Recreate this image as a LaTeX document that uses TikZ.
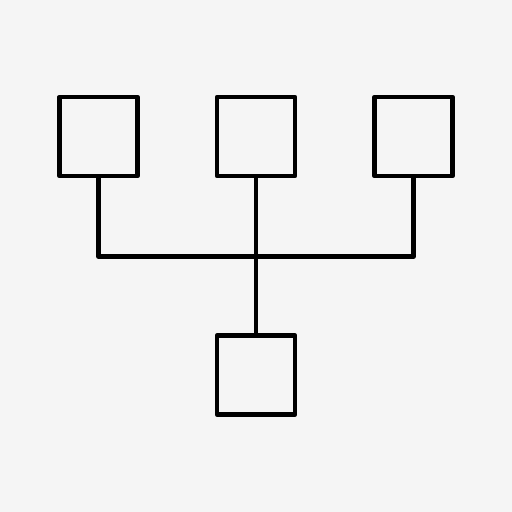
\documentclass[tikz,border=0pt]{standalone}
\definecolor{bg}{HTML}{F5F5F5}
\begin{document}
\begin{tikzpicture}[x=1pt,y=-1pt,
  box/.style={draw=black,line width=4.8pt,line join=round,rectangle,minimum width=78pt,minimum height=79pt,inner sep=0pt,outer sep=0pt},
  conn/.style={draw=black,line width=4.8pt,line join=round}]
\fill[bg] (0,0) rectangle (512,512);
\useasboundingbox (0,0) rectangle (512,512);
\node[box] (b1) at (98.5,136.5) {};
\node[box] (b2) at (256,136.5) {};
\node[box] (b3) at (413.5,136.5) {};
\node[box] (b4) at (256,375) {};
\coordinate (j) at (256,256.5);
\draw[conn] (b1.south) |- (j) -| (b3.south);
\draw[conn] (b2.south) -- (b4.north);
\end{tikzpicture}
\end{document}
